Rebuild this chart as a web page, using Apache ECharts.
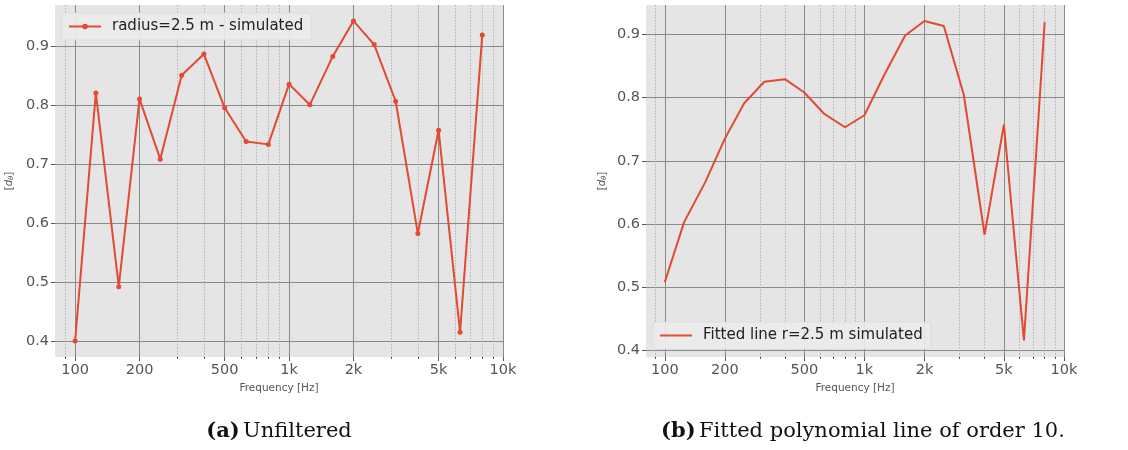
<!DOCTYPE html>
<html>
<head>
<meta charset="utf-8">
<script src="https://cdn.jsdelivr.net/npm/echarts@6/dist/echarts.min.js"></script>
<style>
  html, body { margin: 0; padding: 0; background: #ffffff; }
  #chart { width: 1128px; height: 450px; }
</style>
</head>
<body>
<div id="chart"></div>
<script>
// Third-octave band centre frequencies [Hz]
const frequencies = [100, 125, 160, 200, 250, 315, 400, 500, 630, 800,
                     1000, 1250, 1600, 2000, 2500, 3150, 4000, 5000, 6300, 8000];

// d_theta per band, raw simulation (r = 2.5 m)
const simulated = [0.400, 0.820, 0.492, 0.810, 0.708, 0.850, 0.886, 0.795, 0.738, 0.733,
                   0.835, 0.800, 0.882, 0.942, 0.902, 0.806, 0.582, 0.757, 0.415, 0.918];

// d_theta per band, polynomial fit of order 10
const fitted = [0.508, 0.603, 0.667, 0.735, 0.791, 0.825, 0.829, 0.808, 0.774, 0.753,
                0.772, 0.834, 0.898, 0.921, 0.913, 0.804, 0.583, 0.757, 0.416, 0.919];

// Axis ticks
const majorFreqTicks = [100, 200, 500, 1000, 2000, 5000, 10000];
const minorFreqTicks = [90, 300, 400, 600, 700, 800, 900, 3000, 4000, 6000, 7000, 8000, 9000];
const yTicks = [0.4, 0.5, 0.6, 0.7, 0.8, 0.9];

const RED = '#E24A33';
const GRID_DARK = '#8a8a8a';
const TXT = '#555555';
const FONT = 'DejaVu Sans';

// Frequency axis is logarithmic: values are placed at log10(f)
const lg = v => Math.log10(v);
const freqLabel = f => f >= 1000 ? (f / 1000) + 'k' : String(f);
const X_MIN = 1.906, X_MAX = 4.0;

function xAxes(gridIndex) {
  const major = {
    type: 'value', gridIndex, min: X_MIN, max: X_MAX,
    name: 'Frequency [Hz]', nameLocation: 'middle', nameGap: 26,
    nameTextStyle: { color: TXT, fontSize: 10.5, fontFamily: FONT },
    axisLine: { show: false },
    axisTick: { show: true, length: 4, lineStyle: { color: TXT }, customValues: majorFreqTicks.map(lg) },
    axisLabel: {
      customValues: majorFreqTicks.map(lg), color: TXT, fontSize: 14.5, fontFamily: FONT, margin: 6,
      formatter: v => freqLabel(Math.round(Math.pow(10, v)))
    },
    splitLine: { show: true, lineStyle: { color: GRID_DARK, width: 1 } }
  };
  const minor = {
    type: 'value', gridIndex, min: X_MIN, max: X_MAX, position: 'bottom',
    axisLine: { show: false },
    axisTick: { show: true, length: 2, lineStyle: { color: TXT }, customValues: minorFreqTicks.map(lg) },
    axisLabel: { show: false, customValues: minorFreqTicks.map(lg) },
    splitLine: { show: true, lineStyle: { color: '#a8a8a8', width: 0.8, type: [1.5, 1.5] } }
  };
  return [major, minor];
}

function yAxis(gridIndex, min, max, nameGap) {
  return {
    type: 'value', gridIndex, min, max,
    name: '{b|[}{i|d}{s|θ}{b|]}', nameLocation: 'middle', nameGap, nameRotate: 90,
    nameTextStyle: {
      color: TXT, fontFamily: FONT,
      rich: {
        b: { fontSize: 10, color: TXT, fontFamily: FONT },
        i: { fontSize: 10, color: TXT, fontStyle: 'italic', fontFamily: FONT },
        s: { fontSize: 7, color: TXT, fontStyle: 'italic', fontFamily: FONT, padding: [4, 0, 0, 0] }
      }
    },
    axisLine: { show: false },
    axisTick: { show: true, length: 4, lineStyle: { color: TXT }, customValues: yTicks },
    axisLabel: { customValues: yTicks, color: TXT, fontSize: 14.5, fontFamily: FONT, margin: 6,
                 formatter: v => v.toFixed(1) },
    splitLine: { show: true, lineStyle: { color: GRID_DARK, width: 1 } }
  };
}

const legendStyle = {
  backgroundColor: 'rgba(235,235,235,0.9)', borderColor: '#dcdcdc', borderWidth: 0.8, borderRadius: 3,
  itemWidth: 32, itemHeight: 7, itemGap: 8,
  padding: [6, 8, 6, 6],
  textStyle: { color: '#222', fontSize: 15, fontFamily: FONT, padding: [0, 0, 0, 6] }
};

const chart = echarts.init(document.getElementById('chart'), null, { renderer: 'canvas' });

chart.setOption({
  animation: false,
  backgroundColor: '#ffffff',
  grid: [
    { left: 55, top: 5, width: 448, height: 352, show: true, backgroundColor: '#E5E5E5', borderWidth: 0 },
    { left: 646, top: 5, width: 418, height: 352, show: true, backgroundColor: '#E5E5E5', borderWidth: 0 }
  ],
  xAxis: [...xAxes(0), ...xAxes(1)],
  yAxis: [yAxis(0, 0.373, 0.969, 40), yAxis(1, 0.3897, 0.9463, 38)],
  legend: [
    Object.assign({ left: 62, top: 13, data: [{ name: 'radius=2.5 m - simulated' }] }, legendStyle),
    Object.assign({ left: 653, top: 322,
                    data: [{ name: 'Fitted line r=2.5 m simulated', itemStyle: { opacity: 0 } }] }, legendStyle)
  ],
  series: [
    {
      name: 'radius=2.5 m - simulated', type: 'line', xAxisIndex: 0, yAxisIndex: 0,
      data: frequencies.map((f, i) => [lg(f), simulated[i]]),
      symbol: 'circle', symbolSize: 5, showSymbol: true,
      lineStyle: { color: RED, width: 2 }, itemStyle: { color: RED }
    },
    {
      name: 'Fitted line r=2.5 m simulated', type: 'line', xAxisIndex: 2, yAxisIndex: 1,
      data: frequencies.map((f, i) => [lg(f), fitted[i]]),
      symbol: 'none', showSymbol: false,
      lineStyle: { color: RED, width: 2 }, itemStyle: { color: RED }
    }
  ],
  graphic: [
    {
      type: 'text', x: 279, y: 432,
      style: {
        text: '{b|(a)} {n|Unfiltered}', align: 'center', verticalAlign: 'middle',
        rich: {
          b: { fontFamily: 'DejaVu Serif', fontWeight: 'bold', fontSize: 21, fill: '#111' },
          n: { fontFamily: 'DejaVu Serif', fontSize: 21, fill: '#111' }
        }
      }
    },
    {
      type: 'text', x: 863, y: 432,
      style: {
        text: '{b|(b)} {n|Fitted polynomial line of order 10.}', align: 'center', verticalAlign: 'middle',
        rich: {
          b: { fontFamily: 'DejaVu Serif', fontWeight: 'bold', fontSize: 21, fill: '#111' },
          n: { fontFamily: 'DejaVu Serif', fontSize: 21, fill: '#111' }
        }
      }
    }
  ]
});
</script>
</body>
</html>
